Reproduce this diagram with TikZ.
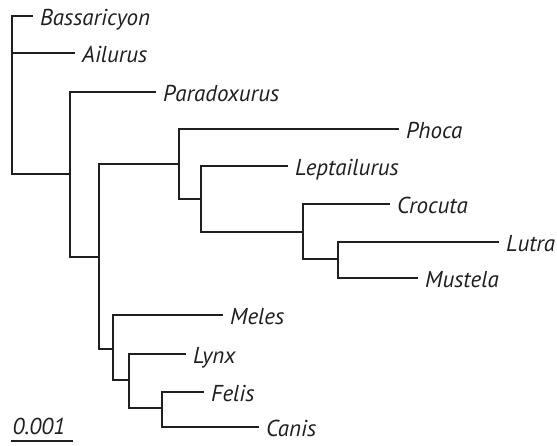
\documentclass[tikz,border=0pt]{standalone}
\usepackage{fontspec}
\setmainfont{PT Sans}
\usetikzlibrary{positioning,calc}
\definecolor{branchgray}{rgb}{0.12,0.12,0.12}

\begin{document}
\begin{tikzpicture}[
      x=1pt, y=-1pt,
      branch/.style={line width=1.8pt, color=branchgray, line cap=rect},
      taxon/.style={font=\fontsize{23}{26}\selectfont\itshape, inner sep=0pt, anchor=base west, text=branchgray},
      scalebar/.style={line width=1.8pt, color=branchgray}
    ]
      \useasboundingbox (0,0) rectangle (557,445);

      % inner nodes of the tree
      \coordinate (root) at (12,53);
      \coordinate (nA) at (70,174);
      \coordinate (nB) at (99,257);
      \coordinate (nC) at (179,164);
      \coordinate (nD) at (201,199);
      \coordinate (nE) at (303,232);
      \coordinate (nF) at (338,259);
      \coordinate (nG) at (113,349);
      \coordinate (nH) at (129,380);
      \coordinate (nI) at (162,408);

      % tips
      \coordinate (bass) at (32,16);
      \coordinate (ailu) at (74,53);
      \coordinate (para) at (155,92);
      \coordinate (phoc) at (398,129);
      \coordinate (lept) at (287,166);
      \coordinate (croc) at (389,204);
      \coordinate (lutr) at (498,242);
      \coordinate (must) at (417,278);
      \coordinate (mele) at (222,315);
      \coordinate (lynx) at (185,354);
      \coordinate (feli) at (203,392);
      \coordinate (cani) at (258,427);

      \node[taxon] (bassL) at ([shift={(8pt,-9pt)}]bass) {Bassaricyon};
      \node[taxon] (ailuL) at ([shift={(8pt,-9pt)}]ailu) {Ailurus};
      \node[taxon] (paraL) at ([shift={(8pt,-9pt)}]para) {Paradoxurus};
      \node[taxon] (phocL) at ([shift={(8pt,-9pt)}]phoc) {Phoca};
      \node[taxon] (leptL) at ([shift={(8pt,-9pt)}]lept) {Leptailurus};
      \node[taxon] (crocL) at ([shift={(8pt,-9pt)}]croc) {Crocuta};
      \node[taxon] (lutrL) at ([shift={(8pt,-9pt)}]lutr) {Lutra};
      \node[taxon] (mustL) at ([shift={(8pt,-9pt)}]must) {Mustela};
      \node[taxon] (meleL) at ([shift={(8pt,-9pt)}]mele) {Meles};
      \node[taxon] (lynxL) at ([shift={(8pt,-9pt)}]lynx) {Lynx};
      \node[taxon] (feliL) at ([shift={(8pt,-9pt)}]feli) {Felis};
      \node[taxon] (caniL) at ([shift={(8pt,-9pt)}]cani) {Canis};

      \draw[branch] (root) |- (bass);
      \draw[branch] (root) -- (ailu);
      \draw[branch] (root) |- (nA);

      \draw[branch] (nA) |- (para);
      \draw[branch] (nA) |- (nB);

      \draw[branch] (nB) |- (nC);
      \draw[branch] (nB) |- (nG);

      \draw[branch] (nC) |- (phoc);
      \draw[branch] (nC) |- (nD);
      \draw[branch] (nD) |- (lept);
      \draw[branch] (nD) |- (nE);
      \draw[branch] (nE) |- (croc);
      \draw[branch] (nE) |- (nF);
      \draw[branch] (nF) |- (lutr);
      \draw[branch] (nF) |- (must);

      \draw[branch] (nG) |- (mele);
      \draw[branch] (nG) |- (nH);
      \draw[branch] (nH) |- (lynx);
      \draw[branch] (nH) |- (nI);
      \draw[branch] (nI) |- (feli);
      \draw[branch] (nI) |- (cani);

      % scale bar
      \coordinate (barL) at (11,441);
      \coordinate (barR) at (73,441);
      \draw[scalebar] (barL) -- node[above=5pt, inner sep=0pt, xshift=-3pt, font=\fontsize{23}{26}\selectfont\itshape, text=branchgray] (barT) {0.001} (barR);
    \end{tikzpicture}
\end{document}
